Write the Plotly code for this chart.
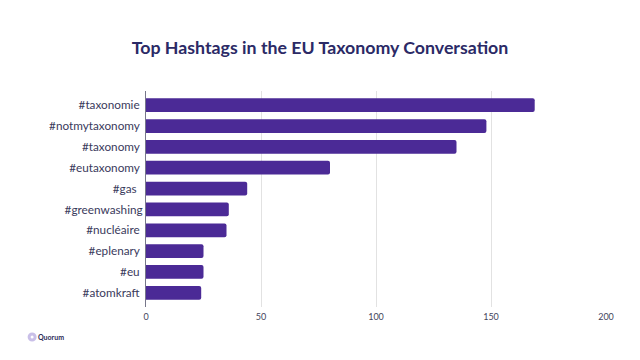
import plotly.graph_objects as go

categories = ["#taxonomie\u00a0", "#notmytaxonomy\u00a0", "#taxonomy\u00a0", "#eutaxonomy\u00a0", "#gas\u00a0\u00a0", "#greenwashing",
              "#nucléaire\u00a0", "#eplenary\u00a0", "#eu\u00a0", "#atomkraft\u00a0"]
values = [169, 148, 135, 80, 44, 36, 35, 25, 25, 24]
x_ticks = [0, 50, 100, 150, 200]

BAR = "#4b2a96"
INK = "#3a3a5c"
TITLE = "#2b2a66"

L, R, T, B = 145.5, 34, 91, 53
w = 640 - L - R
h = 360 - T - B


def px(x):
    return (x - L) / w


def py(y):
    return (360 - y - B) / h


fig = go.Figure(go.Bar(
    x=values, y=categories, orientation="h",
    marker=dict(color=BAR, cornerradius=2, line=dict(width=0)),
    width=0.66, hoverinfo="x+y",
))
fig.update_layout(
    width=640, height=360,
    margin=dict(l=L, r=R, t=T, b=B, pad=0),
    paper_bgcolor="white", plot_bgcolor="white",
    font=dict(family="Lato", color=INK),
    showlegend=False,
    title=dict(text="<b>Top Hashtags in the EU Taxonomy Conversation</b>",
               x=0.5, xanchor="center", y=0.867, yanchor="middle",
               font=dict(family="Lato", size=17.75, color=TITLE)),
    xaxis=dict(range=[0, 200], tickvals=x_ticks, showgrid=True, gridcolor="#e2e2e2", gridwidth=1,
               zeroline=False, showline=False, ticks="", tickfont=dict(size=9, color="#44445c"),
               ticklabelstandoff=3),
    yaxis=dict(type="category", categoryorder="array", categoryarray=categories,
               range=[9.68, -0.68], showgrid=False, zeroline=False,
               showline=True, linecolor="#77778a", linewidth=1, ticks="",
               tickfont=dict(size=11.75, color=INK), ticklabelstandoff=0),
    annotations=[dict(text="<b>Quorum</b>", x=px(35.5), y=py(337), xref="paper", yref="paper",
                      xanchor="left", yanchor="middle", showarrow=False,
                      font=dict(family="Lato", size=7, color="#2b2a56"))],
    shapes=[dict(type="circle", xref="paper", yref="paper", layer="above",
                 x0=px(28.5), x1=px(34.5), y0=py(340), y1=py(334),
                 line=dict(color="#c9bfe8", width=3), fillcolor="white")],
)
fig.write_html("out.html", config=dict(displayModeBar=False),
               post_script="document.body.style.margin='0';")
